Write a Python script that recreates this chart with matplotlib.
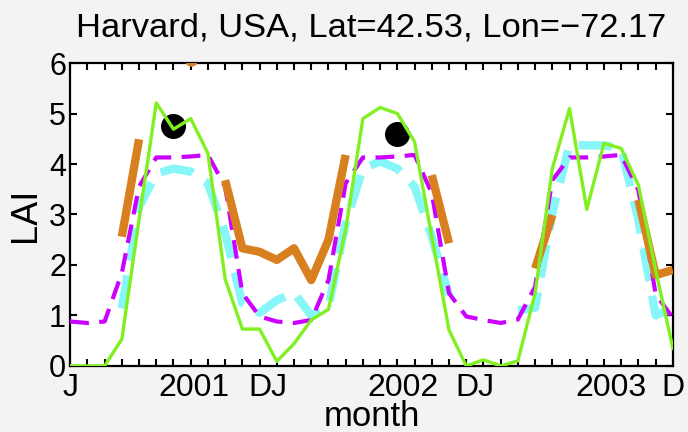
import numpy as np
import matplotlib
matplotlib.use('Agg')
import matplotlib.pyplot as plt

# --- DATA (monthly LAI, Jan 2001 .. Dec 2003) ---
nan = np.nan
months = np.arange(1, 37)

lai_green = [0.0, 0.0, 0.0, 0.53, 2.9, 5.21, 4.69, 4.90, 4.21, 1.72, 0.73, 0.73,
             0.09, 0.44, 0.91, 1.12, 2.7, 4.90, 5.12, 5.00, 4.44, 2.56, 0.71, 0.0,
             0.12, 0.0, 0.10, 1.44, 3.91, 5.10, 3.10, 4.41, 4.31, 3.58, 1.90, 0.35]

lai_magenta = [0.88, 0.85, 0.88, 1.84, 3.55, 4.13, 4.13, 4.15, 4.18, 3.55, 1.44, 0.98,
               0.88, 0.85, 0.91, 1.70, 3.62, 4.13, 4.13, 4.15, 4.18, 3.42, 1.44, 0.98,
               0.91, 0.85, 0.92, 1.57, 3.68, 4.13, 4.13, 4.15, 4.18, 3.48, 1.42, 0.95]

lai_cyan = [nan, nan, nan, 1.14, 3.15, 3.81, 3.91, 3.85, 3.62, 2.63, 1.24, 1.05,
            1.30, 1.45, 1.00, 1.17, 2.83, 3.91, 4.05, 3.91, 3.55, 2.56, 1.40, nan,
            nan, nan, 1.10, 1.15, 3.03, 4.38, 4.37, 4.37, 4.31, 2.89, 1.00, 1.15]

lai_orange = [nan, nan, nan, 2.56, 4.49, nan, nan, nan, nan, 3.68, 2.33, 2.26,
              2.10, 2.33, 1.70, 2.50, 4.18, nan, nan, nan, nan, 3.78, 2.43, nan,
              nan, nan, nan, 1.93, 2.99, nan, nan, nan, nan, 3.29, 1.80, 1.90]

# isolated orange value (month 8, only its bottom edge shows under the top spine)
orange_pt_month = [8]
orange_pt_lai = [6.06]

dot_months = [7, 20]
dot_lai = [4.75, 4.60]

# month letters at the ends, year labels and DJ in between
edge_labels = {1: 'J', 36: 'D'}
label_pos = [8.2, 12.5, 20.3, 24.5, 32.4]
label_txt = ['2001', 'DJ', '2002', 'DJ', '2003']

# --- PLOT ---
plt.rcParams['font.family'] = ['Liberation Sans', 'DejaVu Sans']

fig = plt.figure(figsize=(6.88, 4.32), dpi=100, facecolor='#f3f3f3')
ax = fig.add_axes([0.102, 0.153, 0.876, 0.701])

ax.plot(months, lai_cyan, color='#86f6f8', linewidth=6, dashes=(4, 1.8), zorder=2)
ax.plot(months, lai_magenta, color='#cc00ff', linewidth=3, dashes=(4.5, 2.5), zorder=3)
ax.plot(months, lai_orange, color='#d88020', linewidth=6, solid_capstyle='butt', zorder=4)
ax.plot(orange_pt_month, orange_pt_lai, 'o', color='#d88020', markersize=8, zorder=4)
ax.plot(dot_months, dot_lai, 'o', color='black', markersize=17, zorder=5)
ax.plot(months, lai_green, color='#80f020', linewidth=2.4, zorder=6)

ax.set_xlim(1, 36)
ax.set_ylim(0, 6)

ax.set_xticks(months)
ax.set_xticklabels([edge_labels.get(m, '') for m in months])
ax.set_xticks(label_pos, minor=True)
ax.set_xticklabels(label_txt, minor=True)
ax.tick_params(axis='x', which='major', direction='in', top=True, length=5, width=1.5,
               labelsize=23, pad=5)
ax.tick_params(axis='x', which='minor', length=0, labelsize=23, pad=5)
ax.set_yticks(range(0, 7))
ax.tick_params(axis='y', direction='in', right=True, length=5, width=1.5,
               labelsize=22, pad=3)

for s in ax.spines.values():
    s.set_linewidth(1.6)

ax.set_title('Harvard, USA, Lat=42.53, Lon=\u221272.17', fontsize=24.8, pad=19)
ax.set_xlabel('month', fontsize=25, labelpad=-2)
ax.set_ylabel('LAI', fontsize=26, labelpad=4)

fig.savefig('out.png', dpi=100, facecolor=fig.get_facecolor())
